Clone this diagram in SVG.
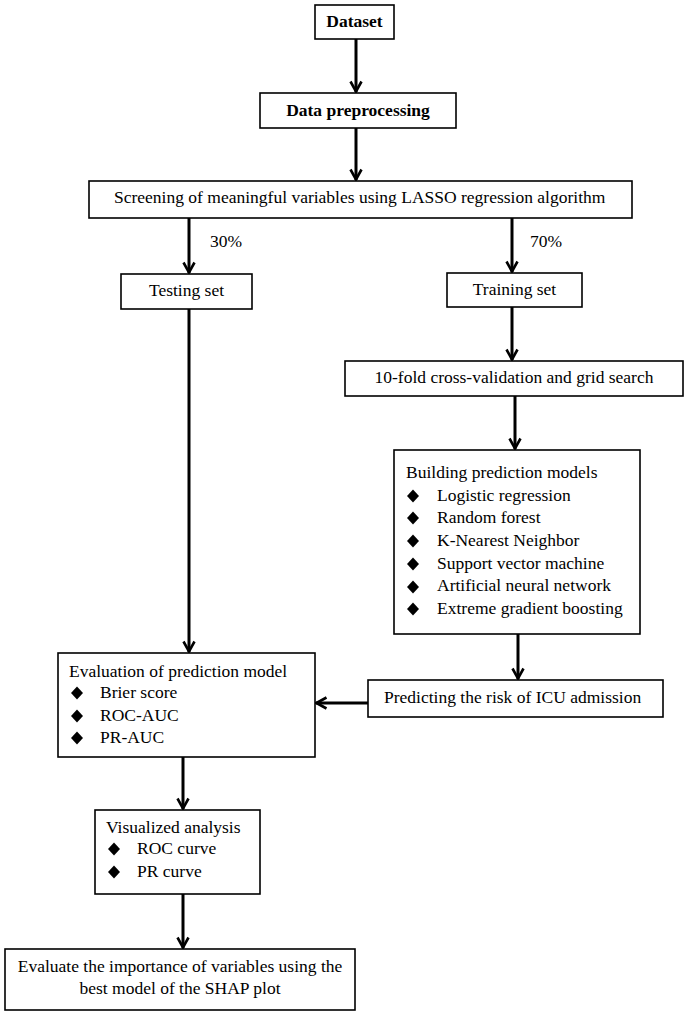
<svg xmlns="http://www.w3.org/2000/svg" width="686" height="1016" viewBox="0 0 686 1016">
<defs>
<style>
.box{fill:#fff;stroke:#000;stroke-width:1.6}
.t{font-family:'Liberation Serif','Times New Roman',Tinos,'DejaVu Serif',serif;font-size:17.5px;fill:#000}
.b{font-weight:bold}
.c{text-anchor:middle}
.conn{stroke:#000;stroke-width:3;fill:none}
</style>
<marker id="ah" markerUnits="userSpaceOnUse" markerWidth="14" markerHeight="14" viewBox="0 0 14 14" refX="12.5" refY="7" orient="auto">
<path d="M2,1.5 L12,7 L2,12.5" fill="none" stroke="#000" stroke-width="2.6"/>
</marker>
<path id="dia" d="M0,-6.5 L6,0 L0,6.5 L-6,0 Z" fill="#000"/>
</defs>
<rect width="686" height="1016" fill="#fff"/>

<g id="connectors">
<line class="conn" x1="356" y1="39" x2="356" y2="92" marker-end="url(#ah)"/>
<line class="conn" x1="356" y1="128" x2="356" y2="180" marker-end="url(#ah)"/>
<line class="conn" x1="189" y1="218" x2="189" y2="273" marker-end="url(#ah)"/>
<line class="conn" x1="512" y1="218" x2="512" y2="272" marker-end="url(#ah)"/>
<line class="conn" x1="512" y1="307" x2="512" y2="360" marker-end="url(#ah)"/>
<line class="conn" x1="515" y1="396" x2="515" y2="449" marker-end="url(#ah)"/>
<line class="conn" x1="189" y1="309" x2="189" y2="652" marker-end="url(#ah)"/>
<line class="conn" x1="518" y1="634" x2="518" y2="679" marker-end="url(#ah)"/>
<line class="conn" x1="368" y1="703" x2="316" y2="703" marker-end="url(#ah)"/>
<line class="conn" x1="183" y1="757" x2="183" y2="809" marker-end="url(#ah)"/>
<line class="conn" x1="183" y1="894" x2="183" y2="948" marker-end="url(#ah)"/>
<text class="t" font-family="Liberation Serif, serif" x="210" y="247">30%</text>
<text class="t" font-family="Liberation Serif, serif" x="530" y="247">70%</text>
</g>

<g id="dataset">
<rect class="box" x="315" y="5" width="79" height="34"/>
<text class="t b c" x="354.5" y="27">Dataset</text>
</g>

<g id="preprocessing">
<rect class="box" x="260" y="93" width="196" height="35"/>
<text class="t b c" x="358" y="116">Data preprocessing</text>
</g>

<g id="lasso">
<rect class="box" x="89" y="181" width="543" height="37"/>
<text class="t" x="114" y="203">Screening of meaningful variables using LASSO regression algorithm</text>
</g>

<g id="testing">
<rect class="box" x="121" y="274" width="131" height="35"/>
<text class="t c" x="186.5" y="296">Testing set</text>
</g>

<g id="training">
<rect class="box" x="447" y="273" width="135" height="34"/>
<text class="t c" x="514.5" y="295">Training set</text>
</g>

<g id="crossval">
<rect class="box" x="345" y="361" width="338" height="35"/>
<text class="t c" x="514" y="383">10-fold cross-validation and grid search</text>
</g>

<g id="models">
<rect class="box" x="394" y="450" width="246" height="184"/>
<text class="t" x="406" y="478">Building prediction models</text>
<use href="#dia" x="413" y="496"/><text class="t" x="437" y="501">Logistic regression</text>
<use href="#dia" x="413" y="518"/><text class="t" x="437" y="523">Random forest</text>
<use href="#dia" x="413" y="541"/><text class="t" x="437" y="546">K-Nearest Neighbor</text>
<use href="#dia" x="413" y="564"/><text class="t" x="437" y="569">Support vector machine</text>
<use href="#dia" x="413" y="587"/><text class="t" x="437" y="591">Artificial neural network</text>
<use href="#dia" x="413" y="609"/><text class="t" x="437" y="614">Extreme gradient boosting</text>
</g>

<g id="predicting">
<rect class="box" x="368" y="680" width="295" height="37"/>
<text class="t" x="384" y="703">Predicting the risk of ICU admission</text>
</g>

<g id="evaluation">
<rect class="box" x="58" y="653" width="257" height="104"/>
<text class="t" x="69" y="677">Evaluation of prediction model</text>
<use href="#dia" x="77" y="693"/><text class="t" x="100" y="698">Brier score</text>
<use href="#dia" x="77" y="716"/><text class="t" x="100" y="721">ROC-AUC</text>
<use href="#dia" x="77" y="738"/><text class="t" x="100" y="743">PR-AUC</text>
</g>

<g id="visualized">
<rect class="box" x="95" y="810" width="165" height="84"/>
<text class="t" x="106" y="833">Visualized analysis</text>
<use href="#dia" x="114" y="849"/><text class="t" x="137" y="854">ROC curve</text>
<use href="#dia" x="114" y="872"/><text class="t" x="137" y="877">PR curve</text>
</g>

<g id="shap">
<rect class="box" x="5" y="949" width="350" height="61"/>
<text class="t c" x="180" y="972">Evaluate the importance of variables using the</text>
<text class="t c" x="180" y="994">best model of the SHAP plot</text>
</g>
</svg>
